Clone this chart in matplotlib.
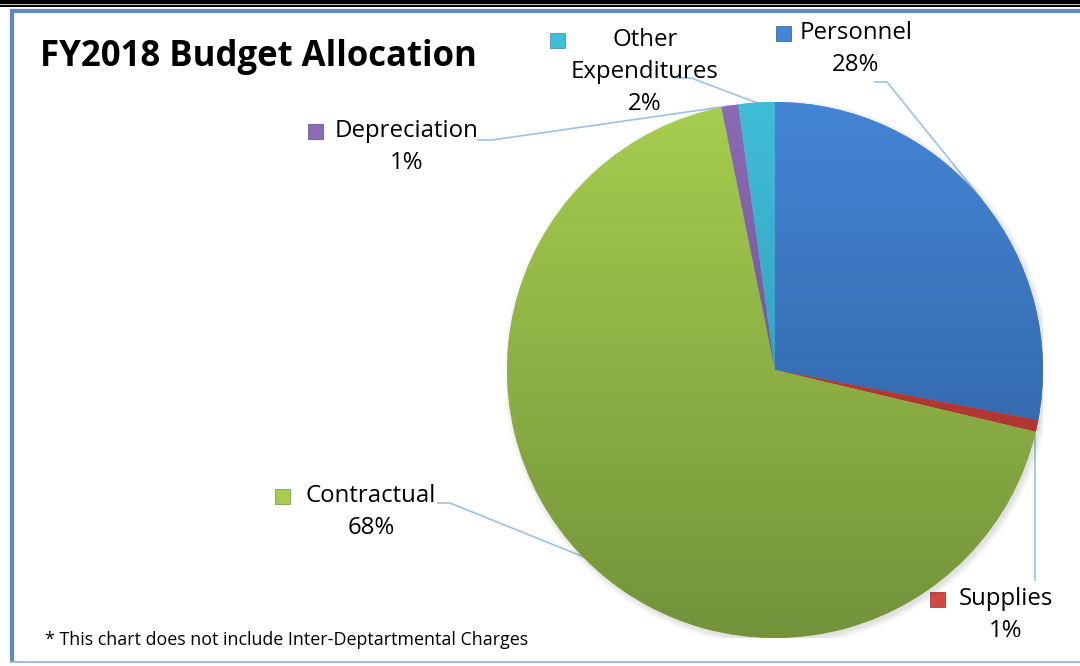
import matplotlib.pyplot as plt
import numpy as np
from matplotlib.colors import LinearSegmentedColormap
from matplotlib.patches import Rectangle, Circle

plt.rcParams['font.family'] = ['Open Sans', 'DejaVu Sans']

# data
categories = ['Personnel', 'Supplies', 'Contractual', 'Depreciation', 'Other\nExpenditures']
shares = [28.0, 0.7, 68.1, 1.0, 2.2]
top_colors = ['#4485d6', '#d04843', '#a7cd4f', '#8b6ab6', '#40bdd9']
bottom_colors = ['#2b5a96', '#9a2a26', '#72933a', '#614885', '#2a8ea7']

W, H = 1080, 666
fig = plt.figure(figsize=(W / 100, H / 100), dpi=100)

# overlay axes in pixel coordinates for frame, labels, leader lines
ov = fig.add_axes([0, 0, 1, 1])
ov.set_xlim(0, W)
ov.set_ylim(H, 0)
ov.axis('off')

# pie axes: centre (775, 370), radius 268 px
cx, cy, r = 775, 370, 268
pa = fig.add_axes([(cx - r) / W, (H - cy - r) / H, 2 * r / W, 2 * r / H])
pa.set_xlim(-1, 1)
pa.set_ylim(-1, 1)
pa.axis('off')

# soft shadow
for k in range(5):
    pa.add_patch(Circle((0.008, -0.010), 1.0 + 0.005 * k, color='black',
                        alpha=0.025, lw=0, zorder=0))

wedges, _ = pa.pie(shares, startangle=90, counterclock=False, radius=1,
                   colors=top_colors, wedgeprops=dict(linewidth=0))
for w, c1, c2 in zip(wedges, top_colors, bottom_colors):
    cmap = LinearSegmentedColormap.from_list('g', [c2, c1])
    grad = np.linspace(0, 1, 256).reshape(-1, 1)
    im = pa.imshow(grad, cmap=cmap, extent=[-1, 1, -1, 1], origin='lower',
                   aspect='auto', zorder=2)
    im.set_clip_path(w)
pa.set_xlim(-1, 1)
pa.set_ylim(-1, 1)

# frame lines
ov.plot([0, W], [2, 2], color='black', lw=3.2, solid_capstyle='butt')
ov.plot([0, W], [6, 6], color='black', lw=1.4, solid_capstyle='butt')
ov.plot([10, W], [11, 11], color='#5b8ac6', lw=3, solid_capstyle='butt')
ov.plot([12, 12], [10, 662], color='#5b8ac6', lw=3, solid_capstyle='butt')
ov.plot([10, W], [662, 662], color='#8fb0da', lw=1.2, solid_capstyle='butt')

ov.text(40, 57, 'FY2018 Budget Allocation', fontsize=25, fontweight='bold',
        ha='left', va='center', color='black')
ov.text(45, 640, '* This chart does not include Inter-Deptartmental Charges',
        fontsize=12.9, ha='left', va='center', color='black')


def edge_point(w, frac=1.0):
    ang = np.deg2rad((w.theta1 + w.theta2) / 2)
    return cx + r * frac * np.cos(ang), cy - r * frac * np.sin(ang)


# label layout: text centre x, first line y, marker x, leader start
layout = {
    'Personnel': dict(x=856, y=33, mx=783, lead=[(875, 82), (887, 82)]),
    'Supplies': dict(x=1006, y=599, mx=937, lead=None),
    'Contractual': dict(x=371, y=496, mx=282, lead=[(438, 503), (450, 503)]),
    'Depreciation': dict(x=407, y=131, mx=315, lead=[(478, 140), (492, 140)]),
    'Other\nExpenditures': dict(x=645, y=40, mx=557, lead=[(678, 78), (691, 78)]),
}
line_h = 32
lead_color = '#9cc2e8'
total = sum(shares)
for w, name, share, c1, c2 in zip(wedges, categories, shares, top_colors, bottom_colors):
    lay = layout[name]
    lines = name.split('\n') + ['%d%%' % round(share / total * 100)]
    for i, t in enumerate(lines):
        ov.text(lay['x'], lay['y'] + i * line_h, t, fontsize=17.3,
                ha='center', va='center', color='black')
    ov.add_patch(Rectangle((lay['mx'] - 7.5, lay['y'] - 7.5), 15, 15,
                           facecolor=c1, edgecolor=c2, lw=0.5))
    px, py = edge_point(w)
    if lay['lead'] is None:
        ov.plot([px - 2, px - 2], [py, 580], color=lead_color, lw=1.2)
    else:
        xs = [p[0] for p in lay['lead']] + [px]
        ys = [p[1] for p in lay['lead']] + [py]
        ov.plot(xs, ys, color=lead_color, lw=1.2)

plt.savefig('out.png', dpi=100)
